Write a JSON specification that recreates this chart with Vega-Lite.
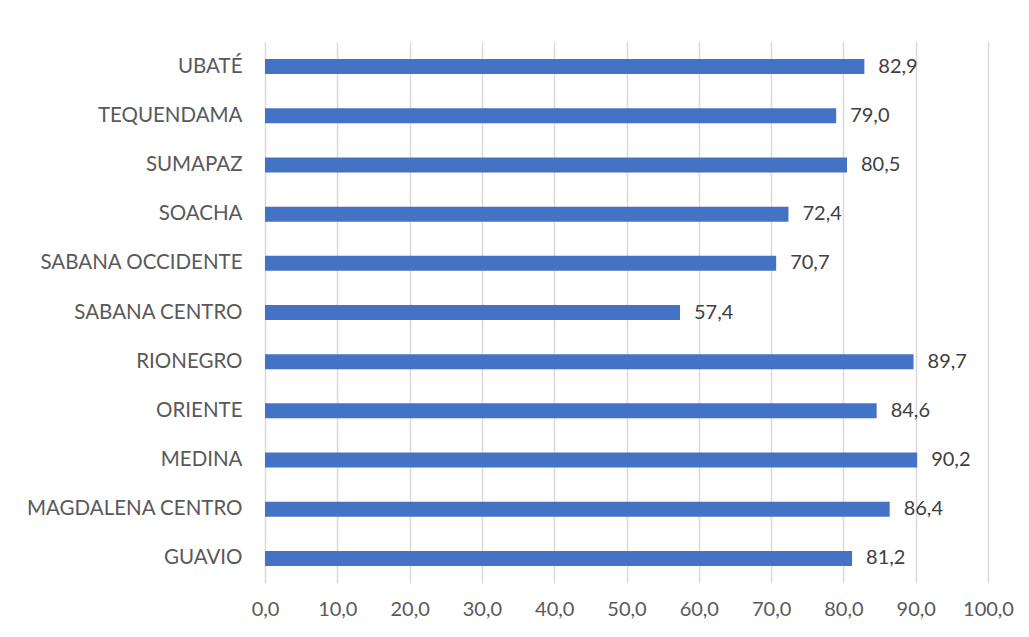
{
  "$schema": "https://vega.github.io/schema/vega-lite/v6.json",
  "autosize": "none",
  "width": 723,
  "height": 541,
  "padding": {"left": 265, "top": 42, "right": 41, "bottom": 54},
  "background": "white",
  "config": {
    "locale": {"number": {"decimal": ",", "thousands": ".", "grouping": [3], "currency": ["$", ""]}},
    "view": {"stroke": null},
    "font": "Lato"
  },
  "data": {
    "values": [
      {"region": "UBATÉ", "value": 82.9},
      {"region": "TEQUENDAMA", "value": 79.0},
      {"region": "SUMAPAZ", "value": 80.5},
      {"region": "SOACHA", "value": 72.4},
      {"region": "SABANA OCCIDENTE", "value": 70.7},
      {"region": "SABANA CENTRO", "value": 57.4},
      {"region": "RIONEGRO", "value": 89.7},
      {"region": "ORIENTE", "value": 84.6},
      {"region": "MEDINA", "value": 90.2},
      {"region": "MAGDALENA CENTRO", "value": 86.4},
      {"region": "GUAVIO", "value": 81.2}
    ]
  },
  "encoding": {
    "y": {
      "field": "region",
      "type": "nominal",
      "sort": null,
      "scale": {"paddingInner": 0, "paddingOuter": 0},
      "axis": {
        "title": null,
        "domain": false,
        "ticks": false,
        "labelPadding": 23,
        "labelFontSize": 20.5,
        "labelLimit": 0,
        "labelColor": "#595959",
        "labelFont": "Lato"
      }
    },
    "x": {
      "field": "value",
      "type": "quantitative",
      "scale": {"domain": [0, 100], "nice": false},
      "axis": {
        "title": null,
        "values": [0, 10, 20, 30, 40, 50, 60, 70, 80, 90, 100],
        "format": ".1f",
        "domain": false,
        "ticks": false,
        "grid": true,
        "gridColor": "#d9d9d9",
        "gridWidth": 1.5,
        "labelPadding": 16,
        "labelFontSize": 20,
        "labelOverlap": false,
        "labelFlush": false,
        "labelColor": "#595959",
        "labelFont": "Lato"
      }
    }
  },
  "layer": [
    {"mark": {"type": "bar", "color": "#4472c4", "size": 15}},
    {
      "mark": {"type": "text", "align": "left", "baseline": "middle", "dx": 14, "fontSize": 20, "color": "#404040", "font": "Lato"},
      "encoding": {"text": {"field": "value", "type": "quantitative", "format": ".1f"}}
    }
  ]
}
